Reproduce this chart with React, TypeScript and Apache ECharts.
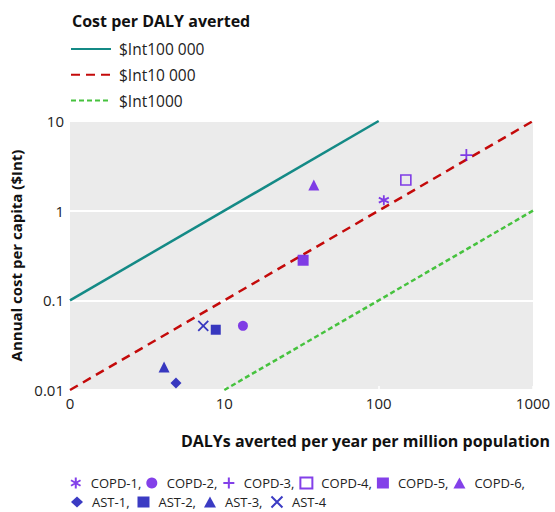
import React, { useEffect, useRef } from "react";
import * as echarts from "echarts";

// Threshold lines: cost per DALY averted, start/end x (DALYs per million)
const thresholdNames = ["$Int100 000", "$Int10 000", "$Int1000"];
const thresholdValues = [100000, 10000, 1000];
const thresholdXStart = [1, 1, 10];
const thresholdXEnd = [100, 1000, 1000];

// Interventions: [DALYs averted per year per million, annual cost per capita]
const pointNames = ["COPD-1", "COPD-2", "COPD-3", "COPD-4", "COPD-5", "COPD-6", "AST-1", "AST-2", "AST-3", "AST-4"];
const pointX = [108, 13.2, 370, 150, 32.4, 38, 4.86, 8.8, 4.07, 7.3];
const pointY = [1.31, 0.052, 4.17, 2.2, 0.28, 1.93, 0.012, 0.047, 0.018, 0.052];

const xTicks = [1, 10, 100, 1000];
const xTickLabels = ["0", "10", "100", "1000"];
const yTicks = [0.01, 0.1, 1, 10];
const yTickLabels = ["0.01", "0.1", "1", "10"];

const FONT = "'Open Sans', 'Noto Sans', sans-serif";
const PURPLE = "#6410e4";
const NAVY = "#0a0ab4";

const ASTERISK = "path://M0,-6L0,6M-5.2,-3L5.2,3M-5.2,3L5.2,-3";
const PLUS = "path://M0,-6L0,6M-6,0L6,0";
const CROSS = "path://M-6,-6L6,6M-6,6L6,-6";

const pointStyles: any[] = [
  { symbol: ASTERISK, size: 10, color: PURPLE, stroke: true },
  { symbol: "circle", size: 10, color: PURPLE },
  { symbol: PLUS, size: 12, color: PURPLE, stroke: true },
  { symbol: "rect", size: 10, color: PURPLE, open: true },
  { symbol: "rect", size: 11, color: PURPLE },
  { symbol: "triangle", size: 11, color: PURPLE },
  { symbol: "diamond", size: 11, color: NAVY },
  { symbol: "rect", size: 10, color: NAVY },
  { symbol: "triangle", size: 11, color: NAVY },
  { symbol: CROSS, size: 10, color: NAVY, stroke: true },
];

const lineStyles = [
  { color: "#148a86", type: "solid" as any, width: 2.5 },
  { color: "#c40a0a", type: [9, 6] as any, width: 2.5 },
  { color: "#46c23e", type: [5, 3] as any, width: 2.5 },
];

export default function App() {
  const ref = useRef<HTMLDivElement>(null);
  useEffect(() => {
    if (!ref.current) return;
    const chart = echarts.init(ref.current, null, { renderer: "svg" });

    const lineSeries = thresholdNames.map((name, i) => {
      const k = 1e6 / thresholdValues[i];
      return {
        name,
        type: "line",
        showSymbol: false,
        symbol: "none",
        lineStyle: lineStyles[i],
        itemStyle: { color: lineStyles[i].color },
        data: [
          [thresholdXStart[i], thresholdXStart[i] / k],
          [thresholdXEnd[i], thresholdXEnd[i] / k],
        ],
        z: 2,
      };
    });

    const scatterSeries = pointNames.map((name, i) => {
      const s = pointStyles[i];
      const itemStyle = s.stroke
        ? { color: "rgba(0,0,0,0)", borderColor: s.color, borderWidth: 1.8 }
        : s.open
        ? { color: "rgba(0,0,0,0)", borderColor: s.color, borderWidth: 1.6 }
        : { color: s.color };
      return {
        name,
        type: "scatter",
        symbol: s.symbol,
        symbolSize: s.size,
        itemStyle,
        data: [[pointX[i], pointY[i]]],
        z: 3,
      };
    });

    const tickFmtX = (v: number) => {
      const idx = xTicks.findIndex((t) => Math.abs(Math.log10(t) - Math.log10(v)) < 1e-6);
      return idx >= 0 ? xTickLabels[idx] : "";
    };
    const tickFmtY = (v: number) => {
      const idx = yTicks.findIndex((t) => Math.abs(Math.log10(t) - Math.log10(v)) < 1e-6);
      return idx >= 0 ? yTickLabels[idx] : "";
    };

    const bottomLegendText = {
      fontFamily: FONT,
      fontSize: 13,
      lineHeight: 14,
      color: "#222",
      padding: [0, 0, 0, 4],
    };

    chart.setOption({
      animation: false,
      textStyle: { fontFamily: FONT },
      title: [
        {
          text: "Cost per DALY averted",
          left: 67,
          top: 8,
          textStyle: { fontFamily: FONT, fontSize: 16, fontWeight: "bold", color: "#111" },
        },
        {
          text: "DALYs averted per year per million population",
          right: 0,
          top: 428,
          textStyle: { fontFamily: FONT, fontSize: 16, fontWeight: "bold", color: "#111" },
        },
      ],
      legend: [
        {
          data: thresholdNames,
          orient: "vertical",
          left: 65,
          top: 36,
          itemWidth: 40,
          itemHeight: 14,
          itemGap: 9.8,
          itemStyle: { opacity: 0 },
          textStyle: { fontFamily: FONT, fontSize: 15.5, color: "#222", padding: [0, 0, 0, 3] },
          selectedMode: false,
        },
        {
          data: pointNames.slice(0, 6),
          orient: "horizontal",
          left: 65,
          top: 471,
          itemWidth: 12,
          itemHeight: 11,
          itemGap: 5,
          formatter: (n: string) => n + ",",
          textStyle: bottomLegendText,
          selectedMode: false,
        },
        {
          data: pointNames.slice(6),
          orient: "horizontal",
          left: 66,
          top: 490,
          itemWidth: 12,
          itemHeight: 11,
          itemGap: 8,
          formatter: (n: string) => (n === "AST-4" ? n : n + ","),
          textStyle: bottomLegendText,
          selectedMode: false,
        },
      ],
      grid: {
        left: 70,
        right: 22,
        top: 121,
        bottom: 122,
        show: true,
        backgroundColor: "#ebebeb",
        borderWidth: 0,
        outerBoundsMode: "none",
        containLabel: false,
      },
      xAxis: {
        type: "log",
        logBase: 10,
        min: 1,
        max: 1000,
        axisLine: { show: false },
        axisTick: { show: true, inside: true, length: 4, lineStyle: { color: "#ffffff", width: 1.5 } },
        splitLine: { show: false },
        axisLabel: { formatter: tickFmtX, fontFamily: FONT, fontSize: 15, color: "#222", margin: 5 },
      },
      yAxis: {
        type: "log",
        logBase: 10,
        min: 0.01,
        max: 10,
        name: "Annual cost per capita ($Int)",
        nameLocation: "middle",
        nameRotate: 90,
        nameGap: 46,
        nameTextStyle: { fontFamily: FONT, fontSize: 15, fontWeight: "bold", color: "#111" },
        axisLine: { show: false },
        axisTick: { show: false },
        splitLine: { show: true, lineStyle: { color: "#ffffff", width: 2 } },
        axisLabel: { formatter: tickFmtY, fontFamily: FONT, fontSize: 15, color: "#222", margin: 6 },
      },
      series: [...lineSeries, ...scatterSeries],
    });
    return () => chart.dispose();
  }, []);
  return (
    <div
      ref={ref}
      style={{ position: "absolute", left: 0, top: 0, width: 555, height: 512, overflow: "hidden" }}
    />
  );
}
